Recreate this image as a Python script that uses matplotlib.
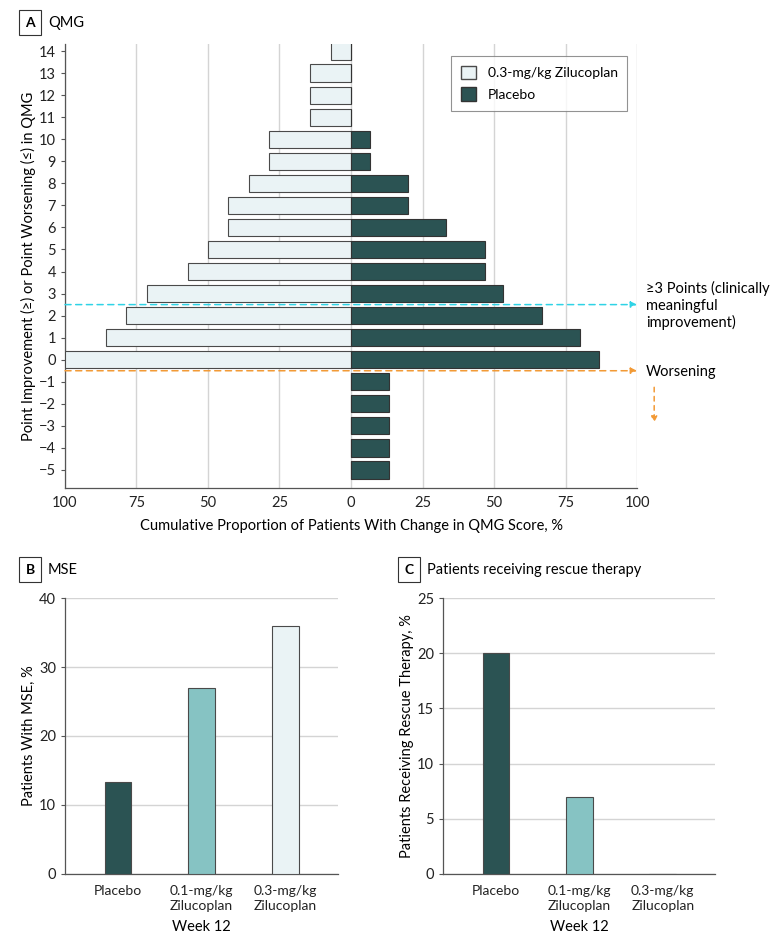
import matplotlib.pyplot as plt
from matplotlib.patches import Patch

plt.rcParams['font.family'] = ['Lato', 'DejaVu Sans']
plt.rcParams['font.size'] = 10

# Panel A data: cumulative % of patients by QMG change
points = [14, 13, 12, 11, 10, 9, 8, 7, 6, 5, 4, 3, 2, 1, 0, -1, -2, -3, -4, -5]
zilu_03 = [7.1, 14.3, 14.3, 14.3, 28.6, 28.6, 35.7, 42.9, 42.9, 50.0, 57.1, 71.4, 78.6, 85.7, 100.0,
           0, 0, 0, 0, 0]
placebo = [0, 0, 0, 0, 6.7, 6.7, 20.0, 20.0, 33.3, 46.7, 46.7, 53.3, 66.7, 80.0, 86.7,
           13.3, 13.3, 13.3, 13.3, 13.3]

# Panels B and C
groups = ['Placebo', '0.1-mg/kg\nZilucoplan', '0.3-mg/kg\nZilucoplan']
mse = [13.3, 26.9, 35.9]
rescue = [20.0, 7.0, 0.0]

dark = '#2b5353'
mid = '#86c3c3'
light = '#eaf3f5'
edge = '#4a4a4a'
grid_c = '#d4d4d4'
spine_c = '#555555'

fig = plt.figure(figsize=(7.8, 9.44), dpi=100)


def panel_label(x, y, letter, title):
    fig.text(x, y, letter, fontsize=10, fontweight='bold', ha='center', va='center',
             bbox=dict(boxstyle='square,pad=0.45', fc='white', ec='#333333', lw=0.8))
    fig.text(x + 0.023, y, title, fontsize=10.5, ha='left', va='center')


def style_axes(ax):
    for s in ['top', 'right']:
        ax.spines[s].set_visible(False)
    for s in ['left', 'bottom']:
        ax.spines[s].set_color(spine_c)
        ax.spines[s].set_linewidth(0.9)
    ax.tick_params(colors=spine_c, labelcolor='#222222', length=3, width=0.8, labelsize=10.5)


# ---- Panel A ----
axA = fig.add_axes([0.0833, 0.483, 0.7334, 0.4704])
style_axes(axA)
axA.barh(points, [-v for v in zilu_03], height=0.78, color=light, edgecolor=edge, linewidth=0.8,
         label='0.3-mg/kg Zilucoplan', zorder=3)
axA.barh(points, placebo, height=0.78, color=dark, edgecolor='#333333', linewidth=0.8,
         label='Placebo', zorder=3)
axA.set_xlim(-100, 100)
axA.set_ylim(-5.82, 14.32)
axA.set_yticks(points)
axA.set_xticks([-100, -75, -50, -25, 0, 25, 50, 75, 100])
axA.set_xticklabels(['100', '75', '50', '25', '0', '25', '50', '75', '100'])
axA.tick_params(axis='x', length=0, pad=6)
axA.xaxis.grid(True, color=grid_c, lw=1, zorder=0)
axA.set_axisbelow(True)
axA.set_xlabel('Cumulative Proportion of Patients With Change in QMG Score, %', fontsize=10.5, labelpad=6)
axA.set_ylabel('Point Improvement (\u2265) or Point Worsening (\u2264) in QMG', fontsize=10.5)
axA.yaxis.set_label_coords(-0.051, 0.5)

handles = [Patch(facecolor=light, edgecolor=edge, label='0.3-mg/kg Zilucoplan'),
           Patch(facecolor=dark, edgecolor='#333333', label='Placebo')]
leg = axA.legend(handles=handles, loc='upper right', bbox_to_anchor=(0.983, 0.973), frameon=True,
                 fancybox=False, edgecolor='#777777', fontsize=10, handlelength=1.1, handleheight=1.1,
                 borderpad=0.7, labelspacing=0.6, borderaxespad=0)
leg.get_frame().set_linewidth(0.8)

# annotation arrows
axA.annotate('', xy=(100, 2.5), xytext=(-100, 2.5),
             arrowprops=dict(arrowstyle='-|>', color='#2fd3e6', ls=(0, (4, 3)), lw=1.1,
                             mutation_scale=9, shrinkA=0, shrinkB=0), annotation_clip=False, zorder=5)
axA.annotate('', xy=(100, -0.5), xytext=(-100, -0.5),
             arrowprops=dict(arrowstyle='-|>', color='#f29a36', ls=(0, (4, 3)), lw=1.1,
                             mutation_scale=9, shrinkA=0, shrinkB=0), annotation_clip=False, zorder=5)
axA.annotate('', xy=(106, -2.85), xytext=(106, -1.25),
             arrowprops=dict(arrowstyle='-|>', color='#f29a36', ls=(0, (3, 3)), lw=1.1,
                             mutation_scale=9, shrinkA=0, shrinkB=0), annotation_clip=False)
axA.text(103.2, 2.45, '\u22653 Points (clinically\nmeaningful\nimprovement)', fontsize=10.5,
         ha='left', va='center', linespacing=1.2, clip_on=False)
axA.text(103.2, -0.55, 'Worsening', fontsize=10.5, ha='left', va='center', clip_on=False)

panel_label(0.0385, 0.976, 'A', 'QMG')

# ---- Panels B and C ----
def bar_panel(rect, values, ymax, yticks, ylabel):
    ax = fig.add_axes(rect)
    style_axes(ax)
    x = range(len(groups))
    ax.bar(x, values, width=0.32, color=[dark, mid, light], edgecolor=edge, linewidth=0.8, zorder=3)
    ax.set_xlim(-0.635, 2.63)
    ax.set_ylim(0, ymax)
    ax.set_yticks(yticks)
    ax.set_xticks(list(x))
    ax.set_xticklabels(groups, fontsize=10, linespacing=1.25)
    ax.tick_params(axis='x', length=0, pad=8)
    ax.yaxis.grid(True, color=grid_c, lw=1, zorder=0)
    ax.set_axisbelow(True)
    ax.set_xlabel('Week 12', fontsize=10.5, labelpad=6)
    ax.set_ylabel(ylabel, fontsize=10.5)
    ax.yaxis.set_label_coords(-0.106, 0.5)
    return ax


bar_panel([0.0833, 0.0742, 0.35, 0.2923], mse, 40, [0, 10, 20, 30, 40], 'Patients With MSE, %')
bar_panel([0.568, 0.0742, 0.349, 0.2923], rescue, 25, [0, 5, 10, 15, 20, 25],
          'Patients Receiving Rescue Therapy, %')

panel_label(0.0385, 0.3965, 'B', 'MSE')
panel_label(0.524, 0.3965, 'C', 'Patients receiving rescue therapy')

fig.savefig('out.png', dpi=100)
